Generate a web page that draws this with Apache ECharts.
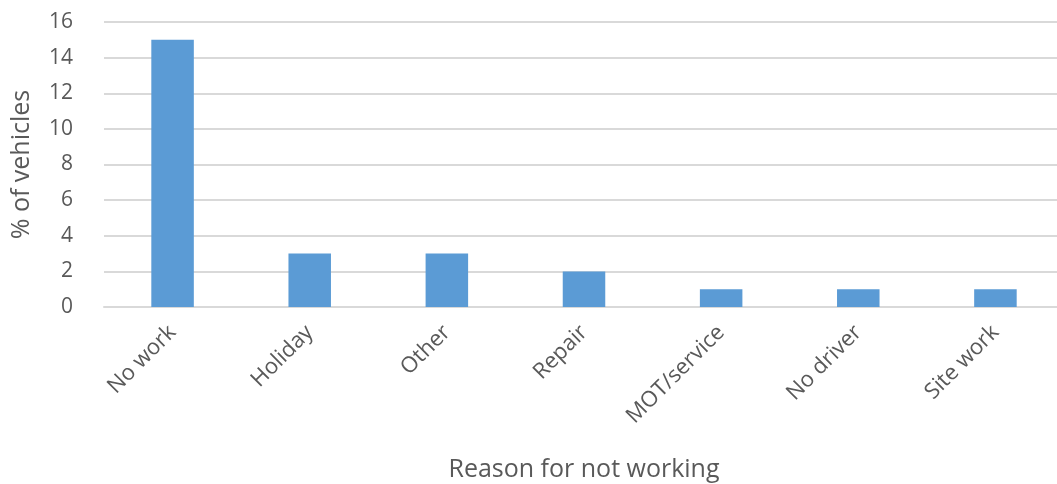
<!DOCTYPE html>
<html>
<head>
<meta charset="utf-8">
<script src="https://cdn.jsdelivr.net/npm/echarts@6/dist/echarts.min.js"></script>
<style>
  html, body { margin: 0; padding: 0; background: #fff; }
  #chart { width: 1057px; height: 484px; }
</style>
</head>
<body>
<div id="chart"></div>
<script>
// data
const reasons = ['No work', 'Holiday', 'Other', 'Repair', 'MOT/service', 'No driver', 'Site work']
const percentVehicles = [15, 3, 3, 2, 1, 1, 1]

const textColor = '#595959'
const fontFamily = '"Open Sans", "Liberation Sans", sans-serif'

const chart = echarts.init(document.getElementById('chart'))

chart.setOption({
  animation: false,
  grid: {
    left: 104,
    right: -7,
    top: 22,
    bottom: 177,
    outerBoundsMode: 'none',
    containLabel: false
  },
  xAxis: {
    type: 'category',
    data: reasons,
    name: 'Reason for not working',
    nameLocation: 'middle',
    nameGap: 150,
    nameTextStyle: { color: textColor, fontSize: 25, fontFamily },
    axisLine: { lineStyle: { color: '#d9d9d9', width: 2 } },
    axisTick: { show: false },
    axisLabel: {
      rotate: 45,
      interval: 0,
      margin: 22,
      color: textColor,
      fontSize: 22,
      fontFamily
    }
  },
  yAxis: {
    type: 'value',
    min: 0,
    max: 16,
    interval: 2,
    name: '% of vehicles',
    nameLocation: 'middle',
    nameGap: 70,
    nameTextStyle: { color: textColor, fontSize: 25, fontFamily },
    axisLine: { show: false },
    axisTick: { show: false },
    axisLabel: { color: textColor, fontSize: 21, fontFamily, margin: 31 },
    splitLine: { lineStyle: { color: '#d9d9d9', width: 2 } }
  },
  series: [
    {
      type: 'bar',
      data: percentVehicles,
      barWidth: '31%',
      itemStyle: { color: '#5b9bd5' }
    }
  ]
})
</script>
</body>
</html>
